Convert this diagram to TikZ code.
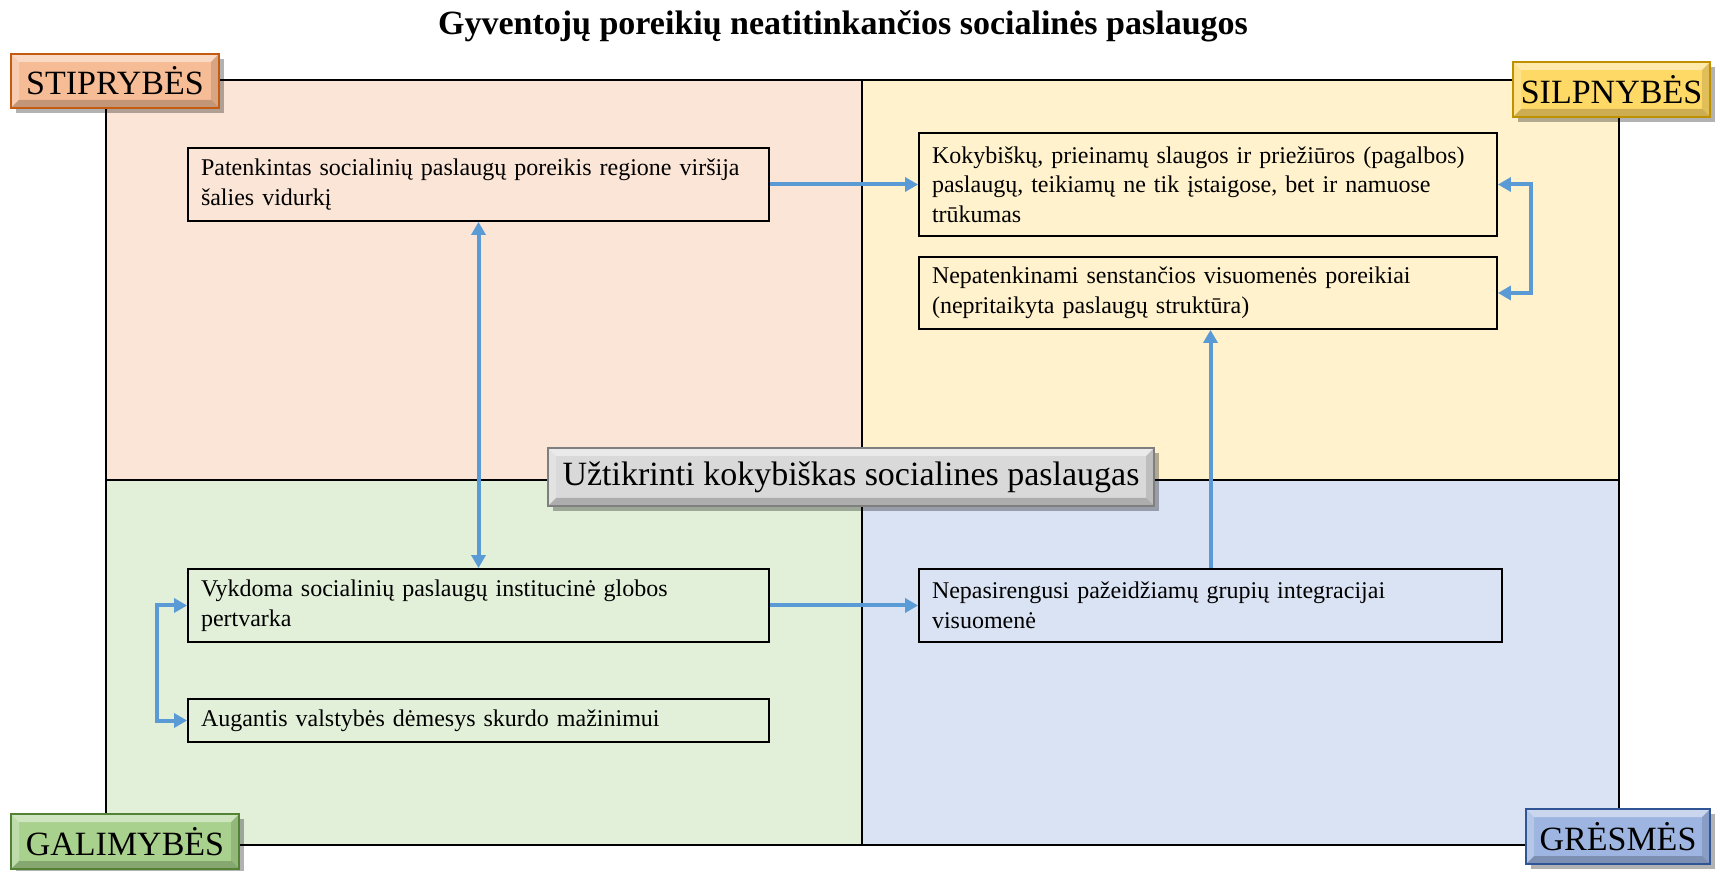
\documentclass[tikz,border=0pt]{standalone}
\usepackage{fontspec}
\setmainfont{Liberation Serif}
\usetikzlibrary{arrows.meta,calc}
\definecolor{qTL}{HTML}{FBE5D6}
\definecolor{qTR}{HTML}{FFF2CC}
\definecolor{qBL}{HTML}{E2F0D9}
\definecolor{qBR}{HTML}{DAE3F3}
\definecolor{arrowblue}{HTML}{5B9BD5}
\definecolor{stipF}{HTML}{F6BC96}
\definecolor{stipD}{HTML}{C55A11}
\definecolor{silpF}{HTML}{FFD966}
\definecolor{silpD}{HTML}{BF9000}
\definecolor{galF}{HTML}{A9D18E}
\definecolor{galD}{HTML}{548235}
\definecolor{gresF}{HTML}{9DB5E0}
\definecolor{gresD}{HTML}{2F5597}
\definecolor{cenF}{HTML}{D9D9D9}
\definecolor{cenD}{HTML}{7F7F7F}
\tikzset{
  txtbox/.style={draw=black, line width=0.9pt, align=left,
    font=\fontsize{12}{14.8}\selectfont, inner xsep=6.5pt, inner ysep=0pt},
  conn/.style={draw=arrowblue, line width=2pt, ->},
  dconn/.style={draw=arrowblue, line width=2pt, <->},
  lbl/.style 2 args={fill=#1, draw=#2, line width=0.6pt,
    font=\fontsize{17}{20}\selectfont, inner sep=0pt,
    preaction={fill=black, opacity=0.3, transform canvas={xshift=2.5pt,yshift=-2.5pt}},
    path picture={
      \coordinate (nw) at (path picture bounding box.north west);
      \coordinate (ne) at (path picture bounding box.north east);
      \coordinate (sw) at (path picture bounding box.south west);
      \coordinate (se) at (path picture bounding box.south east);
      \fill[white, opacity=0.45] (nw) -- (ne) -- ($(ne)+(-4pt,-4pt)$) -- ($(nw)+(4pt,-4pt)$) -- cycle;
      \fill[white, opacity=0.25] (nw) -- ($(nw)+(4pt,-4pt)$) -- ($(sw)+(4pt,4pt)$) -- (sw) -- cycle;
      \fill[black, opacity=0.2] (sw) -- ($(sw)+(4pt,4pt)$) -- ($(se)+(-4pt,4pt)$) -- (se) -- cycle;
      \fill[black, opacity=0.12] (ne) -- (se) -- ($(se)+(-4pt,4pt)$) -- ($(ne)+(-4pt,-4pt)$) -- cycle;
    }},
  >={Triangle[length=6.5pt,width=7pt]}
}
\begin{document}
\begin{tikzpicture}[x=0.5pt,y=-0.5pt]
\useasboundingbox (0,0) rectangle (1715,871);
% quadrants
\fill[qTL] (106,80) rectangle (862,480);
\fill[qTR] (862,80) rectangle (1619,480);
\fill[qBL] (106,480) rectangle (862,845);
\fill[qBR] (862,480) rectangle (1619,845);
\draw[line width=0.8pt] (106,80) rectangle (1619,845);
\draw[line width=0.8pt] (862,80) -- (862,845);
\draw[line width=0.8pt] (106,480) -- (1619,480);
% title
\node[font=\fontsize{17}{20}\selectfont\bfseries] (title) at (843,26) {Gyventojų poreikių neatitinkančios socialinės paslaugos};
% boxes
\node[txtbox, fill=qTL, text width=277.5pt, minimum height=36.5pt] (A) at (478.5,184.5) {Patenkintas socialinių paslaugų poreikis regione viršija\\šalies vidurkį};
\node[txtbox, fill=qTR, text width=276pt, minimum height=51.5pt] (B) at (1208,184.5) {Kokybiškų, prieinamų slaugos ir priežiūros (pagalbos)\\paslaugų, teikiamų ne tik įstaigose, bet ir namuose\\trūkumas};
\node[txtbox, fill=qTR, text width=276pt, minimum height=36pt] (C) at (1208,293) {Nepatenkinami senstančios visuomenės poreikiai\\(nepritaikyta paslaugų struktūra)};
\node[txtbox, fill=qBL, text width=277.5pt, minimum height=36.5pt] (D) at (478.5,605.5) {Vykdoma socialinių paslaugų institucinė globos\\pertvarka};
\node[txtbox, fill=qBL, text width=277.5pt, minimum height=21.5pt] (E) at (478.5,720.5) {Augantis valstybės dėmesys skurdo mažinimui};
\node[txtbox, fill=qBR, text width=278.5pt, minimum height=36.5pt] (F) at (1210.5,605.5) {Nepasirengusi pažeidžiamų grupių integracijai\\visuomenė};
% connectors
\coordinate (rb) at (1531,0);
\coordinate (lb) at (157,0);
\draw[conn] (A.east) -- (B.west);
\draw[dconn] (A.south) -- (D.north);
\draw[conn] (D.east) -- (F.west);
\draw[conn] (F.north) -- (F.north |- C.south);
\draw[dconn] (B.east) -- (B.east -| rb) -- (C.east -| rb) -- (C.east);
\draw[dconn] (D.west) -- (D.west -| lb) -- (E.west -| lb) -- (E.west);
% center label
\node[lbl={cenF}{cenD}, minimum width=303pt, minimum height=29pt] (cen) at (851,477) {Užtikrinti kokybiškas socialines paslaugas};
% corner labels
\node[lbl={stipF}{stipD}, minimum width=104pt, minimum height=27pt] (stip) at (115,81) {STIPRYBĖS};
\node[lbl={silpF}{silpD}, minimum width=98.5pt, minimum height=27.5pt] (silp) at (1611.5,89.5) {SILPNYBĖS};
\node[lbl={galF}{galD}, minimum width=114pt, minimum height=27.5pt] (gal) at (125,841.5) {GALIMYBĖS};
\node[lbl={gresF}{gresD}, minimum width=92pt, minimum height=27.5pt] (gres) at (1618,836.5) {GRĖSMĖS};
\end{tikzpicture}
\end{document}
